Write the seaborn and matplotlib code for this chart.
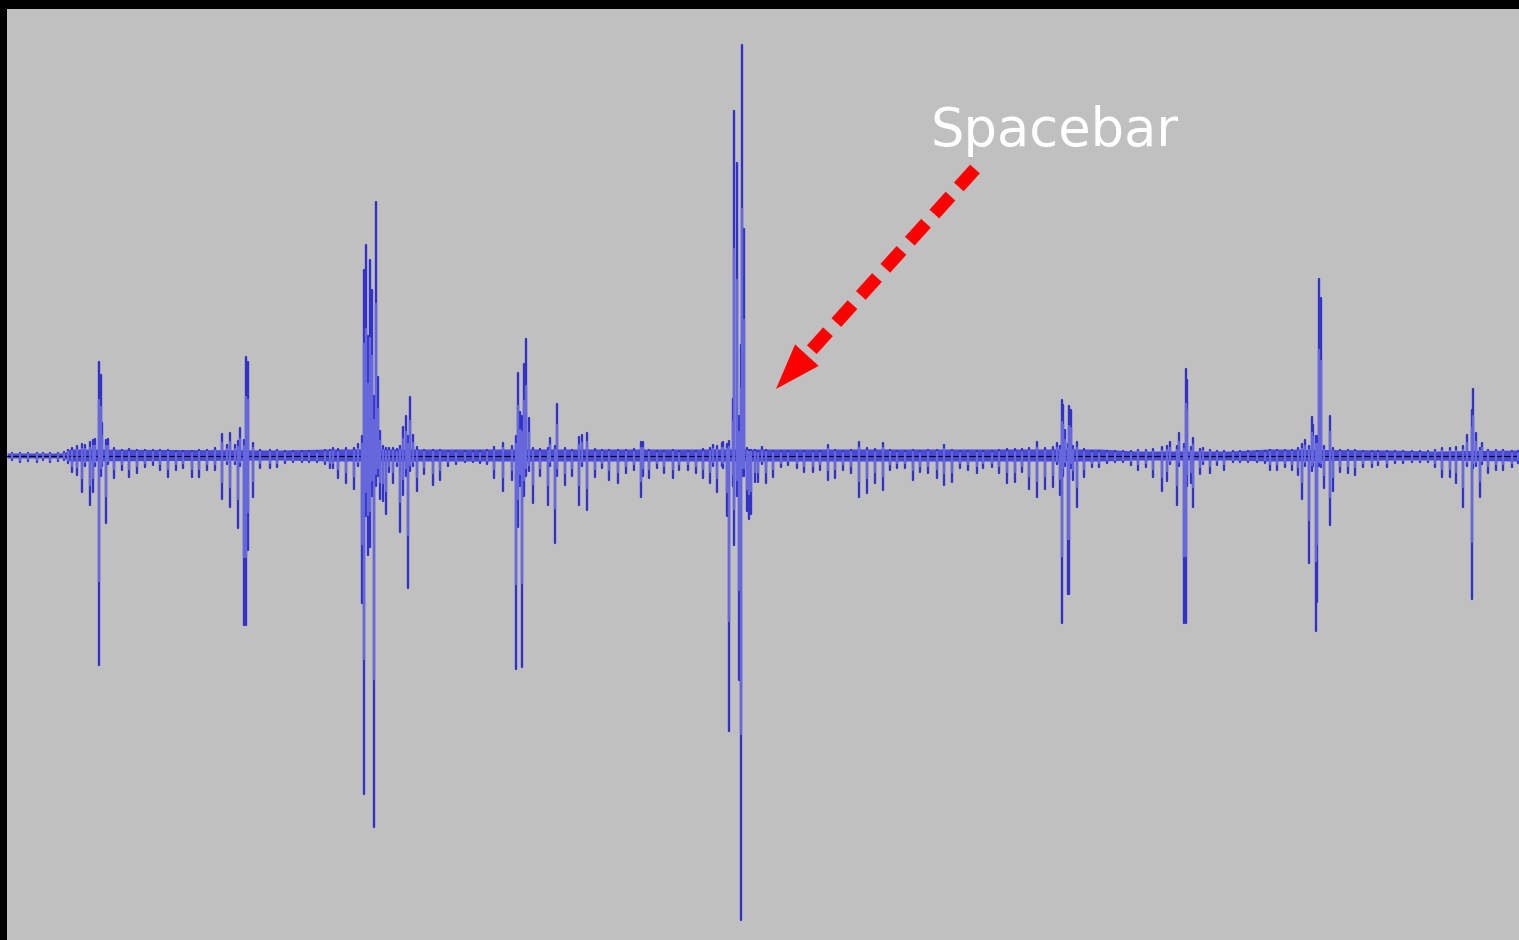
import pandas as pd
import matplotlib.pyplot as plt
import seaborn as sns

sns.set_theme(style='white', rc={'axes.facecolor': '#C0C0C0', 'figure.facecolor': 'black'})
plt.rcParams['font.family'] = ['DejaVu Sans']

# waveform peak columns: time position, upper peak, lower peak (amplitude units)
col_x = [12, 20, 28, 37, 43, 50, 58, 64, 68, 72, 77, 82, 85, 90, 93, 95, 99, 101, 102, 106,
         108, 114, 122, 129, 137, 145, 153, 160, 168, 176, 183, 192, 199, 207, 215, 222, 227, 230, 235, 238,
         240, 244, 246, 248, 253, 260, 270, 277, 285, 293, 302, 309, 317, 325, 330, 333, 338, 346, 354, 358,
         362, 364, 366, 368, 370, 372, 374, 376, 378, 380, 383, 386, 389, 393, 397, 400, 403, 406, 408, 410,
         413, 417, 424, 433, 440, 448, 456, 465, 473, 480, 487, 494, 503, 512, 516, 518, 520, 522, 524, 526,
         529, 533, 540, 548, 550, 555, 557, 565, 572, 579, 582, 587, 595, 602, 609, 618, 626, 634, 641, 643,
         649, 657, 664, 673, 679, 688, 696, 703, 710, 713, 717, 722, 723, 727, 729, 733, 734, 737, 739, 741,
         742, 744, 747, 749, 751, 755, 758, 762, 766, 773, 781, 788, 797, 804, 813, 820, 828, 835, 843, 851,
         859, 867, 875, 883, 890, 897, 905, 913, 920, 928, 937, 944, 952, 960, 968, 977, 983, 992, 999, 1007,
         1015, 1022, 1029, 1037, 1045, 1053, 1057, 1060, 1062, 1063, 1065, 1068, 1069, 1071, 1073, 1077, 1084, 1092, 1099, 1107,
         1115, 1123, 1131, 1138, 1146, 1153, 1162, 1167, 1170, 1177, 1179, 1184, 1186, 1187, 1191, 1193, 1200, 1203, 1210, 1217,
         1224, 1233, 1240, 1248, 1257, 1265, 1270, 1277, 1285, 1292, 1298, 1302, 1305, 1309, 1312, 1313, 1316, 1317, 1319, 1321,
         1324, 1330, 1333, 1340, 1348, 1355, 1363, 1372, 1378, 1387, 1395, 1403, 1412, 1420, 1428, 1435, 1442, 1450, 1456, 1463,
         1467, 1472, 1473, 1476, 1480, 1482, 1488, 1496, 1503, 1512, 1518]
col_hi = [3, 3, 3, 3, 3, 3, 3, 4, 6, 8, 10, 12, 11, 14, 16, 17, 94, 81, 33, 16,
          17, 8, 6, 7, 6, 6, 6, 6, 6, 5, 5, 5, 6, 6, 8, 22, 11, 23, 11, 15,
          28, 16, 99, 94, 13, 6, 6, 6, 5, 5, 5, 5, 5, 6, 6, 8, 7, 8, 8, 12,
          20, 186, 211, 120, 196, 166, 60, 254, 79, 25, 10, 8, 8, 8, 7, 10, 29, 40, 20, 59,
          21, 9, 6, 6, 6, 5, 5, 5, 5, 5, 6, 9, 13, 10, 20, 83, 44, 40, 92, 117,
          38, 8, 7, 8, 18, 10, 52, 8, 6, 19, 21, 23, 7, 6, 6, 6, 6, 7, 14, 14,
          6, 5, 5, 6, 5, 5, 5, 7, 8, 11, 10, 13, 14, 12, 15, 57, 345, 293, 40, 111,
          411, 227, 8, 6, 6, 6, 5, 9, 6, 5, 5, 5, 5, 5, 5, 5, 11, 6, 5, 6,
          14, 8, 7, 13, 6, 5, 5, 6, 5, 6, 6, 11, 6, 5, 5, 5, 5, 5, 6, 7,
          7, 7, 8, 14, 8, 9, 13, 10, 56, 51, 26, 12, 50, 46, 10, 14, 7, 5, 5, 5,
          5, 5, 5, 6, 6, 7, 9, 10, 14, 10, 23, 12, 87, 76, 9, 18, 7, 8, 6, 5,
          5, 5, 5, 5, 5, 5, 6, 6, 6, 6, 8, 12, 16, 10, 39, 31, 20, 20, 177, 158,
          10, 40, 8, 6, 6, 6, 5, 5, 5, 5, 5, 5, 5, 5, 5, 6, 8, 8, 9, 10,
          21, 46, 67, 23, 8, 13, 6, 6, 6, 5, 5]
col_lo = [-4, -6, -5, -6, -4, -6, -5, -4, -7, -16, -19, -36, -10, -49, -36, -10, -209, -20, -10, -67,
          -8, -22, -14, -21, -17, -11, -9, -14, -21, -14, -12, -21, -21, -14, -14, -43, -8, -51, -8, -72,
          -10, -169, -169, -94, -41, -12, -12, -11, -7, -6, -6, -6, -6, -8, -12, -12, -22, -27, -33, -10,
          -147, -338, -60, -99, -91, -40, -371, -30, -20, -43, -45, -58, -16, -27, -10, -76, -39, -20, -132, -15,
          -10, -35, -18, -29, -24, -10, -8, -6, -6, -7, -8, -22, -35, -24, -213, -71, -30, -211, -40, -20,
          -15, -47, -20, -49, -10, -87, -20, -29, -20, -49, -10, -54, -21, -12, -24, -27, -17, -14, -41, -20,
          -22, -12, -17, -22, -14, -14, -17, -22, -27, -10, -36, -10, -12, -60, -275, -30, -89, -40, -224, -464,
          -20, -20, -55, -63, -58, -26, -26, -8, -27, -21, -11, -9, -12, -16, -16, -14, -24, -22, -14, -17,
          -41, -37, -27, -34, -14, -12, -12, -24, -16, -17, -22, -29, -26, -12, -14, -17, -12, -11, -17, -27,
          -26, -16, -33, -41, -33, -31, -8, -39, -167, -20, -10, -138, -138, -12, -24, -51, -21, -11, -11, -7,
          -6, -6, -9, -14, -11, -21, -35, -25, -8, -49, -10, -167, -167, -30, -27, -51, -18, -8, -17, -9,
          -14, -6, -6, -6, -6, -7, -14, -14, -11, -14, -19, -43, -10, -107, -15, -10, -175, -146, -10, -11,
          -32, -69, -35, -16, -17, -19, -11, -11, -9, -11, -7, -7, -6, -6, -6, -11, -21, -21, -27, -51,
          -10, -143, -12, -10, -41, -8, -17, -14, -14, -11, -7]

# dense low-level band around zero
band_x = [7, 64, 70, 280, 330, 1100, 1135, 1230, 1268, 1390, 1432, 1519]
band_hi = [3, 3, 7, 6, 7, 7, 5, 5, 7, 6, 5, 6]
band_lo = [-2, -2, -5, -4, -5, -5, -4, -4, -5, -4, -4, -5]

rows = []
for i, (x, h, l) in enumerate(zip(col_x, col_hi, col_lo)):
    rows.append((i, x, h))
    rows.append((i, x, l))
peaks = pd.DataFrame(rows, columns=['col', 't', 'amp'])
rms = peaks.assign(amp=peaks['amp'] * 0.6)

fig = plt.figure(figsize=(15.19, 9.40), dpi=100)
ax = fig.add_axes([7 / 1519, 0, 1512 / 1519, 931 / 940])

ax.fill_between(band_x, band_lo, band_hi, color='#4A4AD4', lw=0, zorder=2)
ax.axhline(0, color='black', lw=0.8, zorder=2.5)
sns.lineplot(data=peaks, x='t', y='amp', units='col', estimator=None, sort=False,
             color='#3232C8', lw=1.7, ax=ax, zorder=3)
sns.lineplot(data=rms, x='t', y='amp', units='col', estimator=None, sort=False,
             color='#6666DD', lw=1.7, ax=ax, zorder=4)

ax.set_xlim(7, 1519)
ax.set_ylim(-484, 447)
ax.set_xlabel('')
ax.set_ylabel('')
ax.set_xticks([])
ax.set_yticks([])
sns.despine(ax=ax, left=True, bottom=True)

# annotation
ax.text(931, 310, 'Spacebar', color='white', fontsize=38, ha='left', va='baseline', zorder=6)
ax.plot([975, 807], [287, 101], color='#FF0000', lw=9.4, dashes=(1.85, 0.95), zorder=6)
ax.annotate('', xy=(776, 67), xytext=(807, 101),
            arrowprops=dict(arrowstyle='-|>,head_length=33,head_width=11.5', mutation_scale=1,
                            color='#FF0000', lw=0, shrinkA=0, shrinkB=0), zorder=6)

fig.savefig('out.png', dpi=100, facecolor='black')
